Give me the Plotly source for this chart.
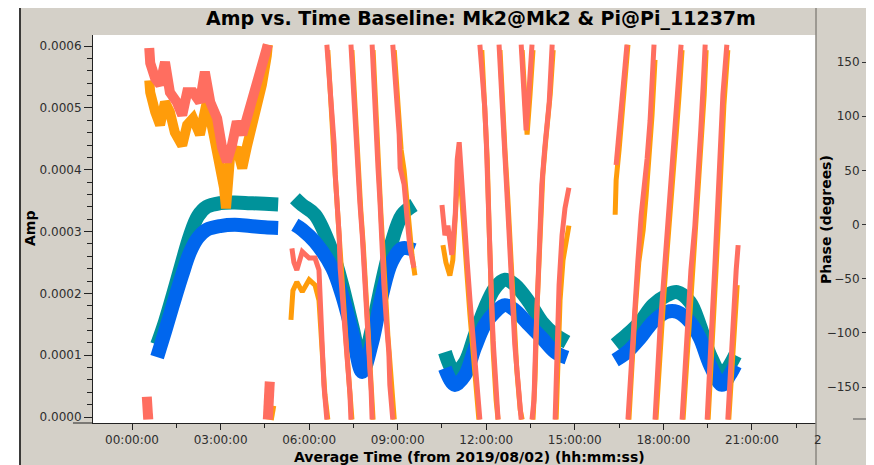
import plotly.graph_objects as go

DAY = "2019-08-02 "

# amplitude, both correlations sampled at the same times (None = gap between scans)
amp_times = [
    "00:51", "01:07", "01:23", "01:42", "01:58", "02:14", "02:32", "02:59", "03:29", "04:00", "04:30", "04:57", None,
    "05:31", "05:46", "06:12", "06:47", "07:07", "07:27", "07:48", "08:08", "08:28", "08:48", "09:09", "09:33", None,
    "10:36", "10:56", "11:17", "11:37", "11:57", "12:18", "12:38", "12:58", "13:27", "13:53", "14:20", "14:44", None,
    "16:22", "16:46", "17:13", "17:39", "18:07", "18:28", "18:54", "19:14", "19:35", "19:59", "20:15", "20:26",
]
amp_corr1 = [
    0.000117, 0.000154, 0.000197, 0.000251, 0.000294, 0.000325, 0.000340, 0.000346, 0.000347, 0.000346, 0.000345, 0.000344, None,
    0.000354, 0.000343, 0.000327, 0.000267, 0.000214, 0.000149, 0.000089, 0.000144, 0.000218, 0.000283, 0.000327, 0.000343, None,
    0.000105, 0.000073, 0.000089, 0.000133, 0.000176, 0.000209, 0.000222, 0.000214, 0.000186, 0.000154, 0.000133, 0.000121, None,
    0.000117, 0.000133, 0.000154, 0.000181, 0.000197, 0.000202, 0.000186, 0.000149, 0.000100, 0.000068, 0.000084, 0.000100,
]
amp_corr2 = [
    0.000097, 0.000138, 0.000181, 0.000230, 0.000267, 0.000290, 0.000303, 0.000309, 0.000311, 0.000309, 0.000307, 0.000306, None,
    0.000311, 0.000303, 0.000283, 0.000241, 0.000197, 0.000138, 0.000073, 0.000121, 0.000197, 0.000251, 0.000273, 0.000270, None,
    0.000079, 0.000052, 0.000068, 0.000112, 0.000149, 0.000170, 0.000181, 0.000173, 0.000149, 0.000128, 0.000105, 0.000096, None,
    0.000092, 0.000105, 0.000128, 0.000154, 0.000170, 0.000170, 0.000154, 0.000128, 0.000084, 0.000052, 0.000068, 0.000084,
]

# phase tracks (time, degrees); each inner list is one unwrapped stretch
phase1_scan1 = [
    [("00:30", -159), ("00:33", -180)],
    [("00:35", 163), ("00:37", 149), ("00:47", 135), ("00:57", 129), ("01:07", 150), ("01:17", 122),
     ("01:31", 113), ("01:42", 101), ("01:52", 122), ("02:04", 122), ("02:18", 113), ("02:28", 141),
     ("02:39", 113), ("02:53", 98), ("03:03", 71), ("03:13", 58), ("03:23", 73), ("03:33", 95),
     ("03:44", 83), ("03:54", 98), ("04:04", 113), ("04:14", 132), ("04:24", 150), ("04:34", 163), ("04:36", 166)],
    [("04:36", -180), ("04:40", -145)],
]
phase2_scan1 = [
    [("00:35", 133), ("00:37", 122), ("00:47", 104), ("00:57", 92), ("01:07", 113), ("01:17", 104),
     ("01:27", 85), ("01:42", 73), ("01:52", 92), ("02:04", 98), ("02:18", 83), ("02:32", 113),
     ("02:45", 85), ("02:59", 58), ("03:07", 34), ("03:11", 15), ("03:15", 46), ("03:19", 61),
     ("03:33", 71), ("03:44", 52), ("03:54", 73), ("04:06", 95), ("04:16", 113), ("04:24", 129),
     ("04:34", 156), ("04:36", 166)],
    [("04:38", -180), ("04:43", -167)],
]

phase1_tracks = [
    # scan 2
    [("05:25", -22), ("05:29", -35), ("05:35", -42), ("05:46", -25), ("06:00", -31), ("06:12", -31),
     ("06:20", -42), ("06:22", -70), ("06:26", -116), ("06:30", -148), ("06:36", -180)],
    [("06:36", 166), ("06:40", 144), ("06:47", 98), ("06:51", 73), ("06:53", 46), ("06:57", 21),
     ("07:01", -10), ("07:03", -40), ("07:11", -86), ("07:17", -118), ("07:23", -157), ("07:25", -180)],
    [("07:25", 166), ("07:31", 113), ("07:37", 67), ("07:43", 21), ("07:48", -10), ("07:52", -40),
     ("07:58", -86), ("08:02", -120), ("08:06", -153), ("08:08", -180)],
    [("08:08", 166), ("08:14", 98), ("08:20", 52), ("08:24", 21), ("08:28", -25), ("08:32", -56),
     ("08:38", -96), ("08:42", -118), ("08:44", -148), ("08:50", -180)],
    [("08:50", 166), ("08:59", 113), ("09:03", 83), ("09:05", 52), ("09:13", 37), ("09:19", 6),
     ("09:25", -22), ("09:33", -40)],
    # scan 3
    [("10:30", 18), ("10:36", -10), ("10:42", -1), ("10:50", -28), ("10:57", 9), ("11:01", 60),
     ("11:05", 76), ("11:09", 46), ("11:15", -1), ("11:21", -33), ("11:27", -70), ("11:33", -102),
     ("11:39", -134), ("11:43", -162), ("11:47", -180)],
    [("11:47", 166), ("11:53", 138), ("11:57", 108), ("12:00", 78), ("12:02", 41), ("12:06", -10),
     ("12:10", -61), ("12:14", -107), ("12:18", -139), ("12:24", -180)],
    [("12:26", 166), ("12:30", 126), ("12:34", 87), ("12:40", 46), ("12:46", -5), ("12:52", -56),
     ("12:58", -111), ("13:05", -148), ("13:11", -180)],
    [("13:11", 166), ("13:15", 129), ("13:21", 87), ("13:27", 124), ("13:33", 166)],
    [("13:33", -180), ("13:37", -162), ("13:41", -102), ("13:47", -25), ("13:53", 37), ("13:59", 71),
     ("14:08", 113), ("14:14", 166)],
    [("14:20", -180), ("14:24", -102), ("14:28", -56), ("14:34", -10), ("14:40", 15), ("14:48", 34)],
    # scan 4
    [("16:24", 55), ("16:30", 87), ("16:36", 120), ("16:42", 147), ("16:46", 166)],
    [("16:48", -180), ("16:52", -148), ("17:00", -88), ("17:08", -35), ("17:15", 9), ("17:21", 32),
     ("17:27", 61), ("17:33", 96), ("17:37", 133), ("17:41", 166)],
    [("17:43", -180), ("17:47", -144), ("17:53", -97), ("17:59", -61), ("18:05", -24), ("18:11", 9),
     ("18:18", 46), ("18:24", 87), ("18:30", 124), ("18:36", 166)],
    [("18:38", -180), ("18:44", -134), ("18:50", -88), ("18:56", -42), ("19:04", -1), ("19:10", 37),
     ("19:16", 87), ("19:21", 129), ("19:25", 166)],
    [("19:29", -180), ("19:33", -134), ("19:39", -88), ("19:45", -35), ("19:51", 23), ("19:55", 73),
     ("20:01", 120), ("20:09", 166)],
    [("20:11", -180), ("20:15", -144), ("20:22", -88), ("20:28", -42), ("20:32", -19)],
]

phase2_tracks = [
    # scan 2
    [("05:23", -88), ("05:27", -61), ("05:35", -53), ("05:46", -62), ("06:00", -51), ("06:12", -56),
     ("06:20", -70), ("06:24", -97), ("06:28", -130), ("06:32", -157), ("06:38", -180)],
    [("06:38", 161), ("06:42", 124), ("06:47", 92), ("06:51", 60), ("06:55", 32), ("06:59", 2),
     ("07:03", -35), ("07:09", -74), ("07:15", -107), ("07:21", -144), ("07:27", -180)],
    [("07:27", 161), ("07:33", 106), ("07:39", 60), ("07:45", 13), ("07:50", -19), ("07:54", -49),
     ("08:00", -93), ("08:04", -127), ("08:10", -180)],
    [("08:10", 161), ("08:16", 92), ("08:22", 46), ("08:26", 9), ("08:30", -31), ("08:36", -70),
     ("08:40", -102), ("08:46", -144), ("08:53", -180)],
    [("08:53", 161), ("09:01", 101), ("09:07", 69), ("09:13", 50), ("09:17", 27), ("09:23", -1),
     ("09:29", -28), ("09:35", -47)],
    # scan 3
    [("10:32", -19), ("10:38", -35), ("10:46", -47), ("10:52", -33), ("10:59", 23), ("11:03", 50),
     ("11:09", 32), ("11:15", -14), ("11:21", -47), ("11:27", -84), ("11:33", -116), ("11:39", -153),
     ("11:45", -180)],
    [("11:51", 161), ("11:57", 115), ("12:02", 60), ("12:06", -5), ("12:10", -70), ("12:14", -116),
     ("12:20", -162), ("12:24", -180)],
    [("12:28", 161), ("12:32", 115), ("12:38", 69), ("12:44", 23), ("12:50", -33), ("12:56", -88),
     ("13:02", -134), ("13:09", -171), ("13:13", -180)],
    [("13:13", 161), ("13:19", 115), ("13:23", 83), ("13:29", 120), ("13:35", 161)],
    [("13:35", -180), ("13:39", -144), ("13:43", -79), ("13:49", -14), ("13:55", 46), ("14:01", 78),
     ("14:10", 120), ("14:16", 161)],
    [("14:22", -180), ("14:26", -107), ("14:30", -70), ("14:36", -33), ("14:42", -14), ("14:48", -1)],
    # scan 4
    [("16:22", 9), ("16:24", 41), ("16:30", 69), ("16:36", 106), ("16:42", 138), ("16:48", 166)],
    [("16:50", -180), ("16:54", -144), ("17:02", -84), ("17:10", -35), ("17:19", -5), ("17:25", 27),
     ("17:31", 60), ("17:37", 101), ("17:43", 152)],
    [("17:45", -180), ("17:49", -148), ("17:55", -102), ("18:01", -65), ("18:07", -28), ("18:13", 4),
     ("18:20", 41), ("18:26", 83), ("18:32", 120), ("18:38", 161)],
    [("18:40", -180), ("18:46", -139), ("18:52", -93), ("18:58", -47), ("19:06", -5), ("19:12", 32),
     ("19:18", 78), ("19:23", 120), ("19:27", 161)],
    [("19:31", -180), ("19:35", -139), ("19:41", -93), ("19:47", -42), ("19:53", 13), ("19:57", 64),
     ("20:03", 110), ("20:11", 161)],
    [("20:13", -180), ("20:18", -148), ("20:24", -97), ("20:30", -56)],
]

TEAL = "#00929a"
BLUE = "#0066ee"
SALMON = "#ff6e60"
ORANGE = "#ff9c0a"
GRAY = "#d4d0c8"
INK = "#222222"


def stamp(t):
    return None if t is None else DAY + t


def flatten(tracks):
    xs, ys = [], []
    for tr in tracks:
        for t, p in tr:
            xs.append(DAY + t)
            ys.append(p)
        xs.append(None)
        ys.append(None)
    return xs, ys


amp_x = [stamp(t) for t in amp_times]

fig = go.Figure()

fig.add_trace(go.Scatter(x=amp_x, y=amp_corr1, mode='lines', line=dict(color=TEAL, width=14, shape='spline'),
                         connectgaps=False, hoverinfo='skip'))
fig.add_trace(go.Scatter(x=amp_x, y=amp_corr2, mode='lines', line=dict(color=BLUE, width=14, shape='spline'),
                         connectgaps=False, hoverinfo='skip'))

for tracks, color, width in [(phase2_scan1, ORANGE, 10), (phase1_scan1, SALMON, 10),
                             (phase2_tracks, ORANGE, 5), (phase1_tracks, SALMON, 5)]:
    px, py = flatten(tracks)
    fig.add_trace(go.Scatter(x=px, y=py, yaxis='y2', mode='lines', line=dict(color=color, width=width),
                             connectgaps=False, hoverinfo='skip'))

# paper coords relative to the 776 x 388 plot box
shapes = [
    dict(type='rect', xref='paper', yref='paper', x0=-0.3, x1=1.2, y0=1.0747, y1=1.2,
         fillcolor='white', line=dict(width=0), layer='above'),
    dict(type='rect', xref='paper', yref='paper', x0=-0.3, x1=-0.0941, y0=-0.2, y1=1.2,
         fillcolor='white', line=dict(width=0), layer='above'),
    dict(type='rect', xref='paper', yref='paper', x0=0.9987, x1=1.2, y0=-0.2, y1=1.2,
         fillcolor='white', line=dict(width=0), layer='above'),
    dict(type='line', xref='paper', yref='paper', x0=-0.0941, x1=0.9317, y0=1.0747, y1=1.0747,
         line=dict(color='black', width=1.5)),
    dict(type='line', xref='paper', yref='paper', x0=-0.0941, x1=-0.0941, y0=-0.11, y1=1.0747,
         line=dict(color='black', width=1.5)),
    dict(type='line', xref='paper', yref='paper', x0=0.9317, x1=0.9317, y0=-0.11, y1=1.0747,
         line=dict(color='#8a8780', width=1.5)),
    dict(type='line', xref='paper', yref='paper', x0=-0.0258, x1=0, y0=0, y1=0,
         line=dict(color=INK, width=1)),
    dict(type='line', xref='paper', yref='paper', x0=0.9794, x1=0.9987, y0=0.0103, y1=0.0103,
         line=dict(color='#555555', width=1)),
]

fig.update_layout(
    width=866, height=457,
    margin=dict(l=85, r=5, t=27, b=42),
    paper_bgcolor=GRAY,
    plot_bgcolor='white',
    showlegend=False,
    font=dict(family='DejaVu Sans', size=12, color='#2e2e2e'),
    title=dict(text='<b>Amp vs. Time Baseline: Mk2@Mk2 & Pi@Pi_11237m</b>',
               x=0.5, xref='paper', xanchor='center', y=1 - 10 / 457, yref='container', yanchor='middle',
               font=dict(size=19, color='black')),
    xaxis=dict(
        type='date', domain=[0, 0.9317],
        range=['2019-08-01 22:40:40', '2019-08-02 23:10:14'],
        tick0='2019-08-02 00:00:00', dtick=3 * 3600 * 1000, tickformat='%H:%M:%S',
        ticks='outside', ticklen=6, tickcolor=INK, showline=True, linecolor=INK, linewidth=1,
        showgrid=False, zeroline=False,
        minor=dict(tick0='2019-08-02 00:00:00', dtick=1.5 * 3600 * 1000, ticks='outside', ticklen=4,
                   tickcolor=INK, showgrid=False),
    ),
    yaxis=dict(
        range=[-0.0000097, 0.0006181], tick0=0, dtick=0.0001, tickformat='.4f',
        ticks='outside', ticklen=8, tickcolor=INK, showline=True, linecolor=INK, linewidth=1,
        showgrid=False, zeroline=False,
        minor=dict(dtick=0.00002, ticks='outside', ticklen=5, tickcolor=INK, showgrid=False),
    ),
    yaxis2=dict(
        overlaying='y', anchor='free', position=1, side='left',
        range=[-183.2, 174.96], tickvals=[-150, -100, -50, 0, 50, 100, 150],
        ticks='outside', ticklen=7, tickcolor='#333333', showline=False, showgrid=False, zeroline=False,
    ),
    shapes=shapes,
    annotations=[
        dict(text='<b>Amp</b>', xref='paper', yref='paper', x=-0.0812, y=0.5026, textangle=-90,
             showarrow=False, font=dict(size=14, color='black'), xanchor='center', yanchor='middle'),
        dict(text='<b>Average Time (from 2019/08/02) (hh:mm:ss)</b>', xref='paper', yref='paper',
             x=0.4858, y=-0.087, showarrow=False, font=dict(size=14, color='black'),
             xanchor='center', yanchor='middle'),
        dict(text='<b>Phase (degrees)</b>', xref='paper', yref='paper', x=0.9446, y=0.523, textangle=-90,
             showarrow=False, font=dict(size=14, color='black'), xanchor='center', yanchor='middle'),
        dict(text='2', xref='paper', yref='paper', x=0.926, y=-0.0438, showarrow=False,
             font=dict(size=12, color='#2e2e2e'), xanchor='left', yanchor='middle'),
    ],
)

fig.write_html("out.html")
